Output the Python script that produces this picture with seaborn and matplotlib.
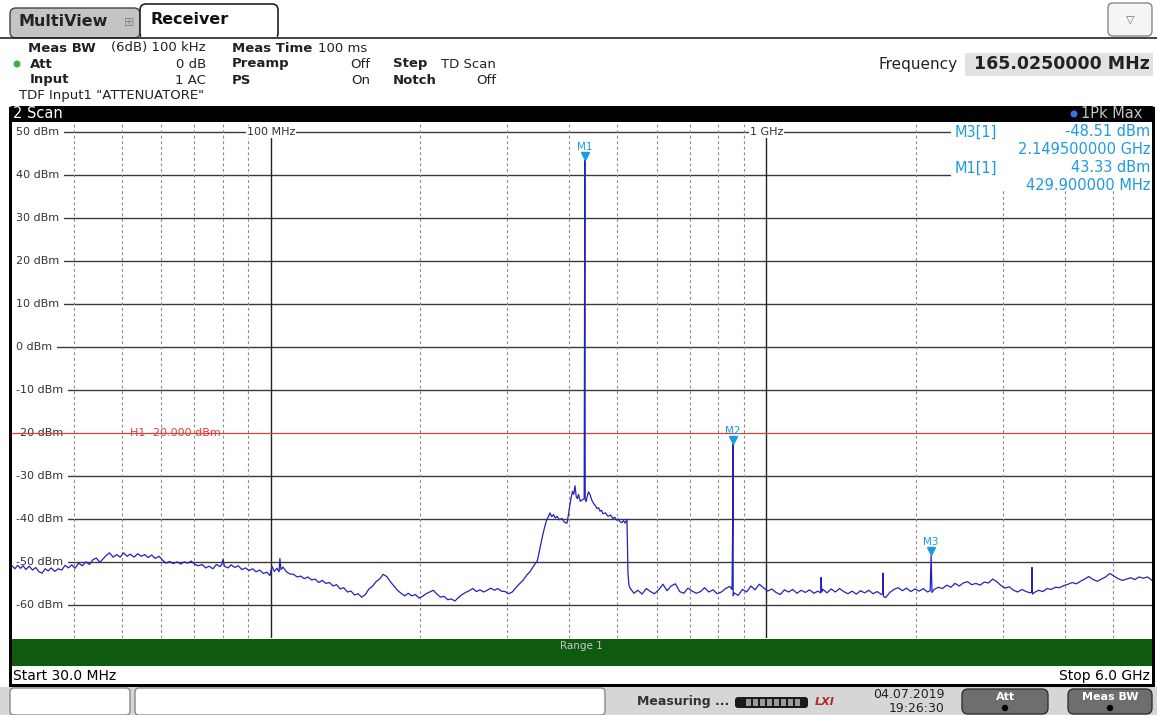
import matplotlib
matplotlib.use("Agg")
import matplotlib.pyplot as plt
from matplotlib.patches import Rectangle, FancyBboxPatch, Circle
import pandas as pd
import seaborn as sns

W, H = 1157, 715

# trace: (frequency MHz, level dBm)
trace_points = [
    (30.0, -50.9), (30.4, -51.6), (30.8, -50.8), (31.2, -51.5), (31.6, -50.9), (32.0, -51.8),
    (32.5, -51.0), (33.0, -51.9), (33.5, -51.3), (34.0, -52.3), (34.5, -52.6), (35.0, -51.6),
    (35.5, -52.1), (36.0, -51.4), (36.6, -52.2), (37.2, -51.6), (37.8, -51.9), (38.4, -50.8),
    (39.0, -51.4), (39.6, -50.7), (40.2, -51.5), (40.9, -50.3), (41.6, -50.9), (42.3, -50.0),
    (43.0, -50.6), (43.7, -49.5), (44.4, -49.1), (45.1, -50.1), (45.8, -49.3), (46.5, -48.5),
    (47.2, -47.9), (48.0, -48.9), (48.8, -48.3), (49.6, -48.9), (50.4, -47.9), (51.2, -48.7),
    (52.0, -48.2), (52.9, -48.9), (53.8, -48.1), (54.7, -48.7), (55.6, -48.3), (56.5, -49.0),
    (57.4, -48.4), (58.4, -49.2), (59.4, -48.7), (60.4, -49.6), (61.4, -50.3), (62.4, -49.9),
    (63.5, -50.4), (64.6, -50.0), (65.7, -50.5), (66.8, -50.0), (67.9, -50.3), (69.0, -49.8),
    (70.2, -50.6), (71.4, -50.9), (72.6, -50.6), (73.8, -51.4), (75.0, -51.0), (76.3, -51.6),
    (77.6, -50.6), (78.9, -51.1), (79.6, -50.5), (80.0, -49.4), (80.5, -51.0), (81.8, -51.4),
    (83.1, -50.7), (84.5, -51.3), (85.9, -50.9), (87.3, -51.8), (88.8, -51.4), (90.3, -52.0),
    (91.8, -51.6), (93.3, -52.3), (94.9, -51.9), (96.5, -52.7), (98.1, -52.4), (99.5, -53.2),
    (100.4, -51.0), (101.5, -52.2), (102.8, -51.5), (103.8, -52.3), (104.2, -49.2), (104.7, -51.8),
    (105.7, -51.2), (107.4, -52.3), (109.2, -52.8), (111.0, -52.9), (112.9, -53.5), (114.8, -53.3),
    (116.7, -53.9), (118.7, -53.5), (120.7, -54.2), (122.7, -54.0), (124.8, -54.8), (126.9, -54.3),
    (129.0, -55.0), (131.2, -54.8), (133.4, -55.6), (135.6, -55.3), (137.9, -56.3), (140.2, -56.0),
    (142.6, -57.0), (145.0, -56.8), (147.4, -57.7), (149.9, -57.4), (152.4, -58.2), (155.0, -57.6),
    (157.6, -56.3), (160.2, -55.7), (162.9, -54.6), (165.6, -54.0), (168.4, -52.9), (171.2, -53.4),
    (174.1, -54.6), (177.0, -55.6), (180.0, -56.6), (183.0, -57.3), (186.1, -57.9), (189.2, -57.3),
    (192.4, -57.9), (195.6, -57.6), (198.9, -58.4), (202.2, -58.0), (205.6, -57.4), (209.1, -57.0),
    (212.6, -56.6), (216.2, -57.5), (219.8, -58.2), (223.5, -58.0), (227.3, -58.8), (231.1, -58.6),
    (235.0, -59.1), (238.9, -58.3), (242.9, -57.6), (247.0, -57.1), (251.2, -56.7), (255.4, -56.2),
    (259.7, -56.9), (264.1, -56.5), (268.5, -57.0), (273.0, -56.6), (277.6, -56.1), (282.3, -56.6),
    (287.0, -56.2), (291.8, -56.8), (296.7, -56.9), (301.7, -57.4), (306.8, -57.0), (312.0, -56.0),
    (317.2, -55.1), (322.5, -54.3), (328.0, -53.1), (333.5, -52.2), (339.1, -50.9), (344.8, -49.7),
    (349.0, -46.8), (353.9, -43.5), (356.5, -42.0), (359.7, -40.4), (362.5, -39.6), (365.6, -38.6),
    (368.5, -39.5), (371.6, -39.0), (374.6, -39.8), (377.7, -39.4), (382.1, -40.2), (386.6, -39.9),
    (391.1, -40.8), (395.6, -41.0), (398.5, -38.9), (401.2, -36.6), (403.5, -35.0), (406.0, -33.6),
    (408.3, -34.3), (410.7, -32.3), (413.0, -34.8), (415.3, -35.3), (417.4, -34.3), (420.8, -35.9),
    (424.2, -35.6), (428.6, -35.3), (429.3, 4.0), (429.9, 43.33), (430.6, -35.4), (432.4, -36.0),
    (434.2, -35.0), (437.2, -33.7), (440.3, -34.3), (443.9, -35.6), (447.6, -36.4), (451.2, -36.9),
    (454.9, -37.6), (458.2, -37.4), (461.3, -38.2), (464.5, -38.0), (467.7, -38.8), (473.3, -38.6),
    (478.9, -39.4), (484.4, -39.1), (490.0, -39.9), (494.0, -39.6), (498.1, -40.3), (502.1, -40.0),
    (506.2, -40.6), (510.3, -40.9), (514.5, -40.4), (518.7, -41.0), (522.9, -40.1), (525.3, -52.6),
    (527.5, -55.2), (530, -56.0), (540, -57.3), (550, -56.6), (561, -57.5), (572, -56.2),
    (583, -56.9), (594, -57.4), (606, -56.5), (618, -55.2), (630, -56.7), (642, -55.6),
    (655, -55.1), (668, -56.9), (681, -57.3), (694, -56.1), (708, -56.8), (722, -57.3),
    (736, -56.9), (750, -56.0), (765, -57.0), (780, -56.5), (795, -57.4), (811, -57.0),
    (827, -56.2), (843, -55.7), (852, -56.4), (854.8, -40.0), (855.6, -22.6), (856.6, -57.9),
    (860, -57.2), (877, -57.8), (894, -56.4), (912, -57.0), (930, -55.6), (948, -56.5),
    (967, -55.2), (986, -56.0), (1005, -56.8), (1025, -56.3), (1045, -57.1), (1066, -57.6),
    (1087, -56.5), (1108, -57.0), (1130, -56.4), (1152, -57.3), (1175, -56.6), (1198, -57.1),
    (1222, -56.5), (1246, -57.3), (1270, -56.8), (1286, -57.2), (1289, -53.6), (1293, -57.0),
    (1300, -56.4), (1325, -57.2), (1351, -56.3), (1377, -57.0), (1404, -56.2), (1432, -56.9),
    (1460, -57.4), (1489, -56.8), (1518, -57.5), (1548, -56.7), (1578, -57.2), (1609, -56.6),
    (1641, -57.4), (1673, -56.9), (1706, -57.6), (1716, -57.3), (1718, -52.6), (1722, -58.0),
    (1740, -58.3), (1774, -57.1), (1809, -56.4), (1845, -56.0), (1881, -56.7), (1918, -56.1),
    (1956, -56.9), (1994, -56.3), (2033, -56.8), (2073, -56.2), (2114, -57.0), (2140, -56.7),
    (2149.5, -48.51), (2158, -57.1), (2180, -56.4), (2222, -55.9), (2266, -56.2), (2311, -55.4),
    (2356, -55.9), (2402, -55.0), (2449, -55.6), (2497, -54.9), (2546, -54.6), (2596, -55.3),
    (2647, -55.0), (2699, -55.4), (2752, -54.7), (2806, -54.9), (2861, -54.0), (2917, -54.6),
    (2974, -55.5), (3032, -56.1), (3092, -55.8), (3153, -56.6), (3215, -57.0), (3278, -56.4),
    (3342, -56.9), (3408, -57.2), (3428, -57.0), (3435, -51.3), (3442, -57.5), (3475, -57.1),
    (3543, -56.6), (3613, -56.9), (3684, -56.2), (3756, -56.4), (3830, -55.9), (3905, -56.0),
    (3982, -55.5), (4060, -55.2), (4140, -54.8), (4221, -55.1), (4304, -54.5), (4388, -54.0),
    (4474, -53.4), (4562, -54.1), (4652, -54.5), (4743, -54.0), (4836, -53.5), (4931, -52.7),
    (5028, -53.3), (5127, -53.9), (5228, -54.3), (5330, -54.0), (5435, -53.7), (5541, -54.1),
    (5650, -53.5), (5761, -53.8), (5874, -53.5), (6000, -54.3),
]
freq_mhz = [p[0] for p in trace_points]
level_dbm = [p[1] for p in trace_points]

marker_names = ["M1", "M2", "M3"]
marker_freq = [429.9, 855.6, 2149.5]
marker_level = [43.33, -22.6, -48.51]

y_ticks = [50, 40, 30, 20, 10, 0, -10, -20, -30, -40, -50, -60]
grid_major = [100, 1000]
grid_major_labels = ["100 MHz", "1 GHz"]
grid_minor = [40, 50, 60, 70, 80, 90, 200, 300, 400, 500, 600, 700, 800, 900, 2000, 3000, 4000, 5000]
h1_level = -20.0

sns.set_style("white")
plt.rcParams['font.family'] = ['DejaVu Sans']

BLUE = '#2323b8'
MK = '#1e9be0'
RED = '#d84040'

fig = plt.figure(figsize=(W / 100, H / 100), dpi=100)

# pixel canvas below and above the diagram
under = fig.add_axes([0, 0, 1, 1], zorder=0)
under.set_xlim(0, W)
under.set_ylim(H, 0)
under.axis('off')

ax = fig.add_axes([12 / W, 1 - 638 / H, 1140 / W, 516 / H], zorder=1)

over = fig.add_axes([0, 0, 1, 1], zorder=2)
over.set_xlim(0, W)
over.set_ylim(H, 0)
over.axis('off')

# ---- diagram
ax.set_xscale('log')
ymin, ymax = -67.7, 52.3
ax.set_xlim(30, 6000)
ax.set_ylim(ymin, ymax)
ax.set_xticks([])
ax.set_yticks([])
ax.minorticks_off()
for s in ax.spines.values():
    s.set_visible(False)

for v in y_ticks:
    if v != h1_level:
        ax.axhline(v, color='#3a3a3a', lw=1.0, zorder=1)
    ax.text(0.0035, v, f"{v} dBm", transform=ax.get_yaxis_transform(), ha='left', va='center',
            fontsize=8, color='#333333', zorder=3,
            bbox=dict(fc='white', ec='none', pad=3.5))

for f in grid_minor:
    ax.axvline(f, color='#8a8a8a', lw=0.8, ls=(0, (2.5, 2.5)), zorder=1)
for f, lab in zip(grid_major, grid_major_labels):
    ax.axvline(f, ymax=(48.6 - ymin) / (ymax - ymin), color='#222222', lw=1.0, zorder=1)
    ax.text(f, 50, lab, ha='center', va='center', fontsize=8, color='#333333', zorder=3,
            bbox=dict(fc='white', ec='none', pad=0.8))

ax.axhline(h1_level, color=RED, lw=0.9, zorder=4)
ax.text(51.9, h1_level, "H1 -20.000 dBm", ha='left', va='center', fontsize=8, color=RED, zorder=4)

df = pd.DataFrame({'freq': freq_mhz, 'level': level_dbm})
sns.lineplot(data=df, x='freq', y='level', ax=ax, color=BLUE, lw=0.9,
             estimator=None, sort=False, zorder=5)
ax.set_xlabel('')
ax.set_ylabel('')

for name, f, l in zip(marker_names, marker_freq, marker_level):
    ax.plot([f], [l + 1.0], marker='v', ms=6, color=MK, mec=MK, zorder=6)
    ax.text(f, l + 3.1, name, ha='center', va='center', fontsize=7.5, color=MK, zorder=6)

# marker table
over.add_patch(Rectangle((951, 123), 201, 67, fc='white', ec='none'))
mt = dict(va='center', fontsize=10.5, color=MK)
over.text(955, 132, "M3[1]", ha='left', **mt)
over.text(1150, 132, "-48.51 dBm", ha='right', **mt)
over.text(1150, 149, "2.149500000 GHz", ha='right', **mt)
over.text(955, 168, "M1[1]", ha='left', **mt)
over.text(1150, 168, "43.33 dBm", ha='right', **mt)
over.text(1150, 185, "429.900000 MHz", ha='right', **mt)

# ---- window frame
over.add_patch(FancyBboxPatch((9, 106), 1146, 16, boxstyle="round,pad=0,rounding_size=4",
                              fc='black', ec='none'))
over.text(13, 114, "2 Scan", ha='left', va='center', fontsize=10.5, color='white')
over.add_patch(Circle((1074, 114), 3.5, fc='#3a6ff0', ec='none'))
over.text(1142, 114, "1Pk Max", ha='right', va='center', fontsize=10.5, color='#c4c4c4')
over.add_patch(Rectangle((9, 107), 3, 580, fc='black', ec='none'))
over.add_patch(Rectangle((1152, 107), 3, 580, fc='black', ec='none'))
over.add_patch(Rectangle((9, 684), 1146, 3, fc='black', ec='none'))

over.add_patch(Rectangle((12, 639), 1140, 27, fc='#0e5a0e', ec='none'))
over.text(581, 646, "Range 1", ha='center', va='center', fontsize=7.5, color='#c8c8c8')
over.text(13, 676, "Start 30.0 MHz", ha='left', va='center', fontsize=10, color='black')
over.text(1150, 676, "Stop 6.0 GHz", ha='right', va='center', fontsize=10, color='black')

# ---- header
under.plot([0, W], [38, 38], color='#222222', lw=1.2)
under.add_patch(FancyBboxPatch((10, 8), 130, 30, boxstyle="round,pad=0,rounding_size=6",
                               fc='#c4c4c4', ec='#444444', lw=1))
under.text(18, 22, "MultiView", ha='left', va='center', fontsize=11.5, fontweight='bold', color='#222222')
under.text(129, 22, "\u229e", ha='center', va='center', fontsize=9, color='#8a8a8a')
under.add_patch(FancyBboxPatch((140, 4), 138, 35, boxstyle="round,pad=0,rounding_size=6",
                               fc='white', ec='#222222', lw=1.2))
under.add_patch(Rectangle((141, 36), 136, 5, fc='white', ec='none'))
under.text(150, 20, "Receiver", ha='left', va='center', fontsize=11.5, fontweight='bold', color='#111111')
under.add_patch(FancyBboxPatch((1108, 3), 44, 33, boxstyle="round,pad=0,rounding_size=5",
                               fc='#f5f5f5', ec='#888888', lw=1))
under.text(1130, 19, "\u25bd", ha='center', va='center', fontsize=8, color='#777777')

hdr = dict(va='center', fontsize=9.5, color='#222222')
under.text(28, 48, "Meas BW", ha='left', fontweight='bold', **hdr)
under.text(206, 48, "(6dB) 100 kHz", ha='right', **hdr)
under.add_patch(Circle((17, 64), 3.5, fc='#3cb043', ec='none'))
under.text(30, 64, "Att", ha='left', fontweight='bold', **hdr)
under.text(206, 64, "0 dB", ha='right', **hdr)
under.text(30, 80, "Input", ha='left', fontweight='bold', **hdr)
under.text(206, 80, "1 AC", ha='right', **hdr)
under.text(19, 96, 'TDF Input1 "ATTENUATORE"', ha='left', **hdr)
under.text(232, 48, "Meas Time", ha='left', fontweight='bold', **hdr)
under.text(318, 48, "100 ms", ha='left', **hdr)
under.text(232, 64, "Preamp", ha='left', fontweight='bold', **hdr)
under.text(370, 64, "Off", ha='right', **hdr)
under.text(232, 80, "PS", ha='left', fontweight='bold', **hdr)
under.text(370, 80, "On", ha='right', **hdr)
under.text(393, 64, "Step", ha='left', fontweight='bold', **hdr)
under.text(441, 64, "TD Scan", ha='left', **hdr)
under.text(393, 80, "Notch", ha='left', fontweight='bold', **hdr)
under.text(496, 80, "Off", ha='right', **hdr)

under.text(958, 64, "Frequency", ha='right', va='center', fontsize=11, color='#222222')
under.add_patch(Rectangle((965, 53), 188, 23, fc='#e2e2e2', ec='none'))
under.text(1150, 64, "165.0250000 MHz", ha='right', va='center', fontsize=12.5,
           fontweight='bold', color='#222222')

# ---- status bar
under.add_patch(Rectangle((0, 687), W, 28, fc='#d6d6d6', ec='none'))
under.add_patch(FancyBboxPatch((10, 688), 120, 27, boxstyle="round,pad=0,rounding_size=4",
                               fc='white', ec='#888888', lw=1))
under.add_patch(FancyBboxPatch((135, 688), 470, 27, boxstyle="round,pad=0,rounding_size=4",
                               fc='white', ec='#888888', lw=1))
under.text(637, 702, "Measuring ...", ha='left', va='center', fontsize=9, fontweight='bold', color='#333333')
under.add_patch(FancyBboxPatch((735, 697), 73, 11, boxstyle="round,pad=0,rounding_size=3",
                               fc='#1a1a1a', ec='none'))
for i in range(8):
    under.add_patch(Rectangle((746 + i * 7, 699), 5, 7, fc='#9a9a9a', ec='none'))
under.text(825, 702, "LXI", ha='center', va='center', fontsize=8, fontweight='bold',
           fontstyle='italic', color='#b02828')
under.text(945, 694, "04.07.2019", ha='right', va='center', fontsize=9, color='#222222')
under.text(945, 709, "19:26:30", ha='right', va='center', fontsize=9, color='#222222')
for x0, w, lab in [(962, 86, "Att"), (1068, 84, "Meas BW")]:
    under.add_patch(FancyBboxPatch((x0, 689), w, 25, boxstyle="round,pad=0,rounding_size=6",
                                   fc='#6e6e6e', ec='#333333', lw=1))
    under.text(x0 + w / 2, 697, lab, ha='center', va='center', fontsize=8, fontweight='bold', color='white')
    under.add_patch(Circle((x0 + w / 2, 708), 3.2, fc='black', ec='none'))

fig.savefig("out.png", dpi=100)
